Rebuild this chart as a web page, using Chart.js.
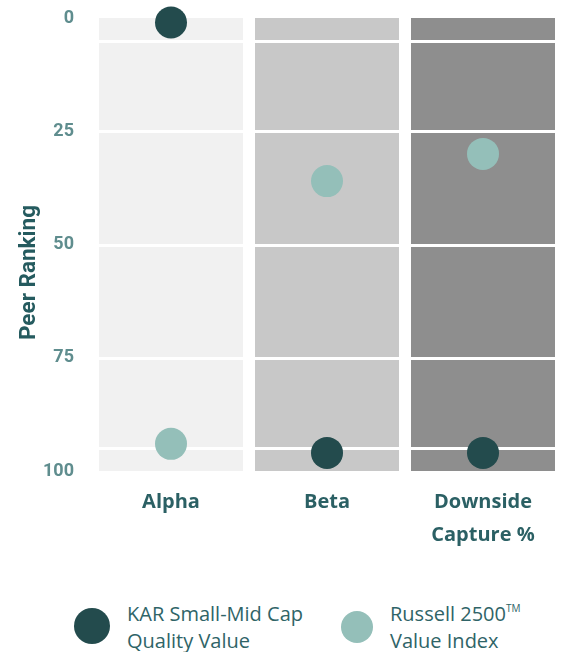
<!DOCTYPE html>
<html>
<head>
<meta charset="utf-8">
<script src="https://cdn.jsdelivr.net/npm/chart.js@4.4.1/dist/chart.umd.min.js"></script>
<style>
  html, body { margin: 0; padding: 0; background: #ffffff; overflow: hidden; }
  #wrap { position: relative; width: 561px; height: 652px; }
  #chartBox { position: absolute; left: 0; top: 0; width: 561px; height: 551px; }
  #legend { position: absolute; left: 0; top: 600px; width: 561px; height: 52px; font-family: "Open Sans", sans-serif; }
  .dot { position: absolute; border-radius: 50%; }
  .txt { position: absolute; font-size: 20px; line-height: 27px; color: #2f6467; white-space: nowrap; }
  sup { font-size: 10px; vertical-align: 9px; line-height: 0; }
</style>
</head>
<body>
<div id="wrap">
  <div id="chartBox"><canvas id="peerChart"></canvas></div>
  <div id="legend"></div>
</div>
<script>
// datos
const categorias = ["Alpha", "Beta", ["Downside", "Capture %"]];
const karValores = [1, 96, 96];
const russellValores = [94, 36, 30];
const fondoColumnas = ["#f1f1f1", "#c8c8c8", "#8e8e8e"];
const ticksY = [0, 25, 50, 75, 100];
const lineasBlancas = [5, 25, 50, 75, 95];
const tituloY = "Peer Ranking";

const series = [
    { label: "KAR Small-Mid Cap\nQuality Value", data: karValores, color: "#234b4d" },
    { label: "Russell 2500\u2122\nValue Index", data: russellValores, color: "#94bfb9" }
];

// lineas blancas sobre las columnas, debajo de los puntos
const lineasPlugin = {
    id: "lineasBlancas",
    afterDatasetDraw(chart, args) {
        if (args.meta.type !== "bar") return;
        const y = chart.scales.y;
        const area = chart.chartArea;
        const ctx = chart.ctx;
        ctx.save();
        ctx.strokeStyle = "#ffffff";
        ctx.lineWidth = 3;
        lineasBlancas.forEach(v => {
            const py = Math.round(y.getPixelForValue(v)) + 0.5;
            ctx.beginPath();
            ctx.moveTo(area.left, py);
            ctx.lineTo(area.right, py);
            ctx.stroke();
        });
        ctx.restore();
    }
};

// titulo vertical del eje y (un poco por debajo del centro, como en el original)
const tituloPlugin = {
    id: "tituloY",
    afterDraw(chart) {
        const area = chart.chartArea;
        const ctx = chart.ctx;
        ctx.save();
        ctx.translate(29, (area.top + area.bottom) / 2 + 28);
        ctx.rotate(-Math.PI / 2);
        ctx.fillStyle = "#255b5f";
        ctx.font = "bold 22.5px Roboto";
        ctx.textAlign = "center";
        ctx.textBaseline = "middle";
        ctx.fillText(tituloY, 0, 0);
        ctx.restore();
    }
};

const ctx = document.getElementById("peerChart");
new Chart(ctx, {
    type: "bar",
    data: {
        labels: categorias,
        datasets: [
            {
                type: "bar",
                data: categorias.map(() => [0, 100]),
                backgroundColor: fondoColumnas,
                borderWidth: 0,
                barPercentage: 0.923,
                categoryPercentage: 1,
                order: 10
            },
            ...series.map((s, i) => ({
                type: "line",
                label: s.label,
                data: s.data,
                showLine: false,
                pointRadius: 16,
                pointHoverRadius: 16,
                pointBackgroundColor: s.color,
                pointBorderWidth: 0,
                clip: false,
                order: 2 - i
            }))
        ]
    },
    options: {
        responsive: true,
        maintainAspectRatio: false,
        animation: false,
        layout: { autoPadding: false, padding: { top: 18, right: 0, bottom: 0, left: 0 } },
        plugins: {
            legend: { display: false },
            tooltip: { enabled: false }
        },
        scales: {
            x: {
                grid: { display: false, drawTicks: false },
                border: { display: false },
                afterFit: scale => { scale.height = 80; },
                ticks: {
                    padding: 15,
                    color: "#2b6064",
                    font: { family: "Open Sans", size: 20, weight: "bold", lineHeight: 1.65 }
                }
            },
            y: {
                reverse: true,
                min: 0,
                max: 100,
                grid: { display: false, drawTicks: false },
                border: { display: false },
                afterBuildTicks: scale => { scale.ticks = ticksY.map(v => ({ value: v })); },
                afterFit: scale => {
                    scale.width = 93;
                    scale.paddingTop = 0;
                    scale.paddingBottom = 0;
                },
                ticks: {
                    padding: 19,
                    color: "#5f8d8e",
                    font: { family: "Roboto", size: 18, weight: "bold" }
                }
            }
        }
    },
    plugins: [lineasPlugin, tituloPlugin]
});

// leyenda html
const leyenda = document.getElementById("legend");
const posLeyenda = [
    { dotX: 74, dotY: 8, size: 36, textX: 127 },
    { dotX: 341, dotY: 11, size: 32, textX: 390 }
];
series.forEach((s, i) => {
    const p = posLeyenda[i];
    const dot = document.createElement("div");
    dot.className = "dot";
    dot.style.cssText = `left:${p.dotX}px;top:${p.dotY}px;width:${p.size}px;height:${p.size}px;background:${s.color};`;
    leyenda.appendChild(dot);
    const txt = document.createElement("div");
    txt.className = "txt";
    txt.style.left = p.textX + "px";
    txt.style.top = "0px";
    txt.innerHTML = s.label.replace("\u2122", "<sup>TM</sup>").replace("\n", "<br>");
    leyenda.appendChild(txt);
});
</script>
</body>
</html>
